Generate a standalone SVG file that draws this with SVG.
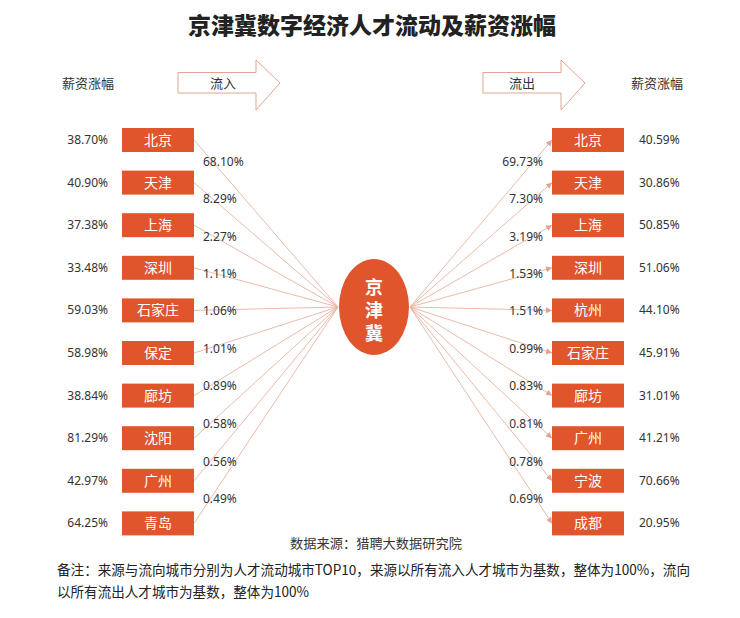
<svg xmlns="http://www.w3.org/2000/svg" width="740" height="618" viewBox="0 0 740 618">
<style>
text{font-family:"Noto Sans","Noto Sans CJK SC",sans-serif;fill:#333}
.title{font-family:"Noto Sans CJK SC",sans-serif;font-size:23px;font-weight:900;fill:#222}
.hdr{font-family:"Noto Sans CJK SC",sans-serif;font-size:13px;fill:#333}
.box{fill:#e0552b}
.bt{font-family:"Noto Sans CJK SC",sans-serif;font-size:14px;fill:#fff;text-anchor:middle}
.pct{font-size:12px;fill:#333}
.l{text-anchor:end}
.fl{font-size:12px;fill:#333}
.ln{stroke:#e8b2a0;stroke-width:0.9;fill:none}
.arr{fill:#fff;stroke:#e3a58e;stroke-width:1}
.note{font-family:"Noto Sans CJK SC",sans-serif;font-size:14px;fill:#222}
</style>
<defs>
<marker id="ah" viewBox="0 0 8 8" refX="8" refY="4" markerWidth="6" markerHeight="6" orient="auto" markerUnits="userSpaceOnUse">
<path d="M0,0 L8,4 L0,8 z" fill="#e8a08a"/>
</marker>
</defs>
<rect width="740" height="618" fill="#fff"/>
<text class="title" x="372" y="34" text-anchor="middle">京津冀数字经济人才流动及薪资涨幅</text>

<g id="hdr-left"><text class="hdr" x="62" y="88">薪资涨幅</text></g>
<g id="arrow-in">
<path class="arr" d="M178,72.5 H256 V60 L280,83 L256,110 V93 H178 Z"/>
<text class="hdr" x="223" y="88" text-anchor="middle">流入</text>
</g>
<g id="arrow-out">
<path class="arr" d="M483,72.5 H561 V60 L585,83 L561,110 V93 H483 Z"/>
<text class="hdr" x="522" y="88" text-anchor="middle">流出</text>
</g>
<g id="hdr-right"><text class="hdr" x="631" y="88">薪资涨幅</text></g>

<g id="connectors">
<line class="ln" x1="194" y1="140" x2="338" y2="307"/>
<line class="ln" x1="194" y1="182.6" x2="338" y2="307"/>
<line class="ln" x1="194" y1="225.2" x2="338" y2="307"/>
<line class="ln" x1="194" y1="267.8" x2="338" y2="307"/>
<line class="ln" x1="194" y1="310.4" x2="338" y2="307"/>
<line class="ln" x1="194" y1="353" x2="338" y2="307"/>
<line class="ln" x1="194" y1="395.6" x2="338" y2="307"/>
<line class="ln" x1="194" y1="438.2" x2="338" y2="307"/>
<line class="ln" x1="194" y1="480.8" x2="338" y2="307"/>
<line class="ln" x1="194" y1="523.4" x2="338" y2="307"/>
<line class="ln" x1="410" y1="307" x2="552" y2="140" marker-end="url(#ah)"/>
<line class="ln" x1="410" y1="307" x2="552" y2="182.6" marker-end="url(#ah)"/>
<line class="ln" x1="410" y1="307" x2="552" y2="225.2" marker-end="url(#ah)"/>
<line class="ln" x1="410" y1="307" x2="552" y2="267.8" marker-end="url(#ah)"/>
<line class="ln" x1="410" y1="307" x2="552" y2="310.4" marker-end="url(#ah)"/>
<line class="ln" x1="410" y1="307" x2="552" y2="353" marker-end="url(#ah)"/>
<line class="ln" x1="410" y1="307" x2="552" y2="395.6" marker-end="url(#ah)"/>
<line class="ln" x1="410" y1="307" x2="552" y2="438.2" marker-end="url(#ah)"/>
<line class="ln" x1="410" y1="307" x2="552" y2="480.8" marker-end="url(#ah)"/>
<line class="ln" x1="410" y1="307" x2="552" y2="523.4" marker-end="url(#ah)"/>
<g class="fl">
<text x="203" y="166">68.10%</text>
<text x="203" y="203">8.29%</text>
<text x="203" y="241">2.27%</text>
<text x="203" y="278">1.11%</text>
<text x="203" y="315">1.06%</text>
<text x="203" y="353">1.01%</text>
<text x="203" y="390">0.89%</text>
<text x="203" y="428">0.58%</text>
<text x="203" y="466">0.56%</text>
<text x="203" y="503">0.49%</text>
</g>
<g class="fl" text-anchor="end">
<text x="543" y="166">69.73%</text>
<text x="543" y="203">7.30%</text>
<text x="543" y="241">3.19%</text>
<text x="543" y="278">1.53%</text>
<text x="543" y="315">1.51%</text>
<text x="543" y="353">0.99%</text>
<text x="543" y="390">0.83%</text>
<text x="543" y="428">0.81%</text>
<text x="543" y="466">0.78%</text>
<text x="543" y="503">0.69%</text>
</g>
</g>

<g id="center">
<ellipse cx="374" cy="307" rx="35" ry="48" fill="#e0552b"/>
<text x="374" y="294" font-family="Noto Sans CJK SC,sans-serif" font-size="18" font-weight="bold" fill="#fff" text-anchor="middle" style="fill:#fff">京</text>
<text x="374" y="317" font-family="Noto Sans CJK SC,sans-serif" font-size="18" font-weight="bold" text-anchor="middle" style="fill:#fff">津</text>
<text x="374" y="340" font-family="Noto Sans CJK SC,sans-serif" font-size="18" font-weight="bold" text-anchor="middle" style="fill:#fff">冀</text>
</g>

<g id="in-beijing"><rect class="box" x="122" y="128" width="72" height="24"/><text class="bt" x="158" y="145">北京</text><text class="pct l" x="108" y="144">38.70%</text></g>
<g id="in-tianjin"><rect class="box" x="122" y="170.6" width="72" height="24"/><text class="bt" x="158" y="187.6">天津</text><text class="pct l" x="108" y="186.6">40.90%</text></g>
<g id="in-shanghai"><rect class="box" x="122" y="213.2" width="72" height="24"/><text class="bt" x="158" y="230.2">上海</text><text class="pct l" x="108" y="229.2">37.38%</text></g>
<g id="in-shenzhen"><rect class="box" x="122" y="255.8" width="72" height="24"/><text class="bt" x="158" y="272.8">深圳</text><text class="pct l" x="108" y="271.8">33.48%</text></g>
<g id="in-shijiazhuang"><rect class="box" x="122" y="298.4" width="72" height="24"/><text class="bt" x="158" y="315.4">石家庄</text><text class="pct l" x="108" y="314.4">59.03%</text></g>
<g id="in-baoding"><rect class="box" x="122" y="341" width="72" height="24"/><text class="bt" x="158" y="358">保定</text><text class="pct l" x="108" y="357">58.98%</text></g>
<g id="in-langfang"><rect class="box" x="122" y="383.6" width="72" height="24"/><text class="bt" x="158" y="400.6">廊坊</text><text class="pct l" x="108" y="399.6">38.84%</text></g>
<g id="in-shenyang"><rect class="box" x="122" y="426.2" width="72" height="24"/><text class="bt" x="158" y="443.2">沈阳</text><text class="pct l" x="108" y="442.2">81.29%</text></g>
<g id="in-guangzhou"><rect class="box" x="122" y="468.8" width="72" height="24"/><text class="bt" x="158" y="485.8">广州</text><text class="pct l" x="108" y="484.8">42.97%</text></g>
<g id="in-qingdao"><rect class="box" x="122" y="511.4" width="72" height="24"/><text class="bt" x="158" y="528.4">青岛</text><text class="pct l" x="108" y="527.4">64.25%</text></g>

<g id="out-beijing"><rect class="box" x="552" y="128" width="72" height="24"/><text class="bt" x="588" y="145">北京</text><text class="pct" x="639" y="144">40.59%</text></g>
<g id="out-tianjin"><rect class="box" x="552" y="170.6" width="72" height="24"/><text class="bt" x="588" y="187.6">天津</text><text class="pct" x="639" y="186.6">30.86%</text></g>
<g id="out-shanghai"><rect class="box" x="552" y="213.2" width="72" height="24"/><text class="bt" x="588" y="230.2">上海</text><text class="pct" x="639" y="229.2">50.85%</text></g>
<g id="out-shenzhen"><rect class="box" x="552" y="255.8" width="72" height="24"/><text class="bt" x="588" y="272.8">深圳</text><text class="pct" x="639" y="271.8">51.06%</text></g>
<g id="out-hangzhou"><rect class="box" x="552" y="298.4" width="72" height="24"/><text class="bt" x="588" y="315.4">杭州</text><text class="pct" x="639" y="314.4">44.10%</text></g>
<g id="out-shijiazhuang"><rect class="box" x="552" y="341" width="72" height="24"/><text class="bt" x="588" y="358">石家庄</text><text class="pct" x="639" y="357">45.91%</text></g>
<g id="out-langfang"><rect class="box" x="552" y="383.6" width="72" height="24"/><text class="bt" x="588" y="400.6">廊坊</text><text class="pct" x="639" y="399.6">31.01%</text></g>
<g id="out-guangzhou"><rect class="box" x="552" y="426.2" width="72" height="24"/><text class="bt" x="588" y="443.2">广州</text><text class="pct" x="639" y="442.2">41.21%</text></g>
<g id="out-ningbo"><rect class="box" x="552" y="468.8" width="72" height="24"/><text class="bt" x="588" y="485.8">宁波</text><text class="pct" x="639" y="484.8">70.66%</text></g>
<g id="out-chengdu"><rect class="box" x="552" y="511.4" width="72" height="24"/><text class="bt" x="588" y="528.4">成都</text><text class="pct" x="639" y="527.4">20.95%</text></g>

<g id="footer">
<text class="hdr" x="290" y="548" font-size="12" textLength="172" lengthAdjust="spacingAndGlyphs">数据来源：猎聘大数据研究院</text>
<text class="note" x="57" y="575" textLength="633" lengthAdjust="spacingAndGlyphs">备注：来源与流向城市分别为人才流动城市TOP10，来源以所有流入人才城市为基数，整体为100%，流向</text>
<text class="note" x="57" y="597" textLength="252" lengthAdjust="spacingAndGlyphs">以所有流出人才城市为基数，整体为100%</text>
</g>
</svg>
